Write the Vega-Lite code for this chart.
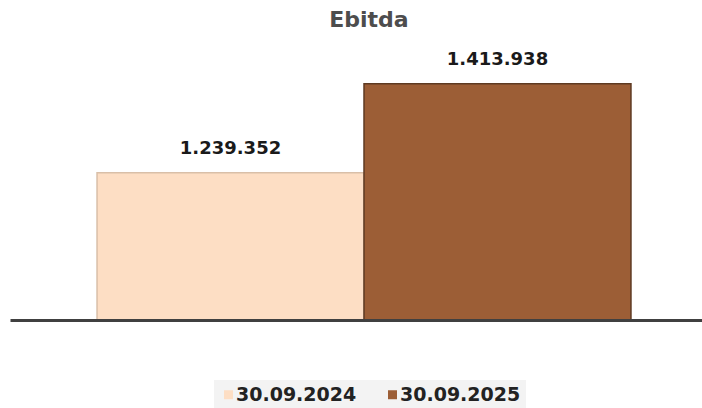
{
  "$schema": "https://vega.github.io/schema/vega-lite/v6.json",
  "width": 692,
  "height": 280,
  "autosize": "none",
  "padding": {"left": 10, "top": 40, "right": 0, "bottom": 88},
  "background": "white",
  "config": {
    "view": {"stroke": null},
    "locale": {"number": {"decimal": ",", "thousands": ".", "grouping": [3], "currency": ["", " €"]}}
  },
  "title": {
    "text": "Ebitda",
    "font": "DejaVu Sans",
    "fontSize": 22,
    "fontWeight": "bold",
    "color": "#4d4d4d",
    "offset": 8,
    "dx": 13
  },
  "data": {
    "values": [
      {"period": "30.09.2024", "ebitda": 1239352},
      {"period": "30.09.2025", "ebitda": 1413938}
    ]
  },
  "encoding": {
    "x": {
      "field": "period",
      "type": "nominal",
      "sort": null,
      "scale": {"range": [0, 708], "paddingInner": 0, "paddingOuter": 0.326},
      "axis": {
        "title": null,
        "labels": false,
        "ticks": false,
        "domain": true,
        "domainColor": "#404040",
        "domainWidth": 3,
        "zindex": 1
      }
    },
    "y": {
      "field": "ebitda",
      "type": "quantitative",
      "scale": {"domain": [950000, 1500000], "zero": false, "nice": false},
      "axis": null
    }
  },
  "layer": [
    {
      "mark": {"type": "bar", "strokeWidth": 1.5, "clip": true},
      "encoding": {
        "color": {
          "field": "period",
          "type": "nominal",
          "scale": {"domain": ["30.09.2024", "30.09.2025"], "range": ["#FDDEC4", "#9C5E36"]},
          "legend": {
            "orient": "none",
            "legendX": 204,
            "legendY": 340,
            "direction": "horizontal",
            "title": null,
            "symbolType": "square",
            "symbolSize": 81,
            "symbolStrokeWidth": 0,
            "labelFont": "DejaVu Sans",
            "labelFontSize": 19,
            "labelFontWeight": "bold",
            "labelColor": "#222222",
            "labelOffset": -2,
            "columnPadding": 26,
            "fillColor": "#f3f3f3",
            "padding": 5
          }
        },
        "stroke": {
          "field": "period",
          "type": "nominal",
          "scale": {"domain": ["30.09.2024", "30.09.2025"], "range": ["#d9bfa8", "#5e3a22"]},
          "legend": null
        }
      }
    },
    {
      "mark": {
        "type": "text",
        "baseline": "alphabetic",
        "dy": -19,
        "font": "DejaVu Sans",
        "fontSize": 18,
        "fontWeight": "bold",
        "color": "#1a1a1a"
      },
      "encoding": {
        "text": {"field": "ebitda", "type": "quantitative", "format": ",d"}
      }
    }
  ]
}
